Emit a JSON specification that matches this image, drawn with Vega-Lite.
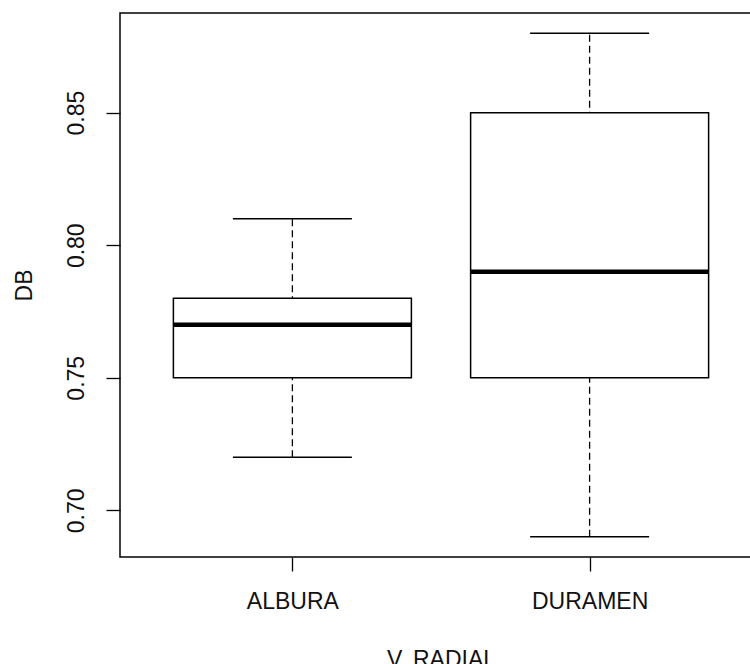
{
  "$schema": "https://vega.github.io/schema/vega-lite/v6.json",
  "autosize": {"type": "none"},
  "padding": {"left": 120, "top": 13, "right": 0, "bottom": 107},
  "width": 642,
  "height": 544,
  "background": "white",
  "config": {
    "view": {"stroke": "#000000", "strokeWidth": 1.5},
    "font": "Liberation Sans",
    "axis": {
      "domain": false,
      "grid": false,
      "tickColor": "#000000",
      "tickWidth": 1.3,
      "tickSize": 14,
      "labelFont": "Liberation Sans",
      "titleFont": "Liberation Sans",
      "labelFontSize": 23,
      "titleFontSize": 23,
      "labelColor": "#111111",
      "titleColor": "#111111",
      "titleFontWeight": "normal"
    }
  },
  "data": {
    "values": [
      {"group": "ALBURA", "min": 0.72, "q1": 0.75, "median": 0.77, "q3": 0.78, "max": 0.81},
      {"group": "DURAMEN", "min": 0.69, "q1": 0.75, "median": 0.79, "q3": 0.85, "max": 0.88}
    ]
  },
  "encoding": {
    "x": {
      "field": "group",
      "type": "nominal",
      "scale": {"type": "point", "padding": 0.58},
      "axis": {"title": "V..RADIAL", "labelAngle": 0, "labelPadding": 19, "titlePadding": 35}
    }
  },
  "layer": [
    {
      "mark": {"type": "rule", "stroke": "#000000", "strokeWidth": 1.3, "strokeDash": [7, 4]},
      "encoding": {
        "y": {
          "field": "min",
          "type": "quantitative",
          "scale": {"domain": [0.6824, 0.8876], "nice": false, "zero": false},
          "axis": {"title": "DB", "values": [0.7, 0.75, 0.8, 0.85], "format": ".2f", "labelAngle": -90, "labelPadding": 18, "titlePadding": 29}
        },
        "y2": {"field": "max"}
      }
    },
    {
      "mark": {"type": "bar", "fill": "#ffffff", "stroke": "#000000", "strokeWidth": 1.5, "size": 238},
      "encoding": {
        "y": {"field": "q1", "type": "quantitative"},
        "y2": {"field": "q3"}
      }
    },
    {
      "mark": {"type": "tick", "color": "#000000", "opacity": 1, "thickness": 4.5, "size": 238, "orient": "horizontal"},
      "encoding": {"y": {"field": "median", "type": "quantitative"}}
    },
    {
      "mark": {"type": "tick", "color": "#000000", "opacity": 1, "thickness": 1.5, "size": 119, "orient": "horizontal"},
      "encoding": {"y": {"field": "min", "type": "quantitative"}}
    },
    {
      "mark": {"type": "tick", "color": "#000000", "opacity": 1, "thickness": 1.5, "size": 119, "orient": "horizontal"},
      "encoding": {"y": {"field": "max", "type": "quantitative"}}
    }
  ]
}
